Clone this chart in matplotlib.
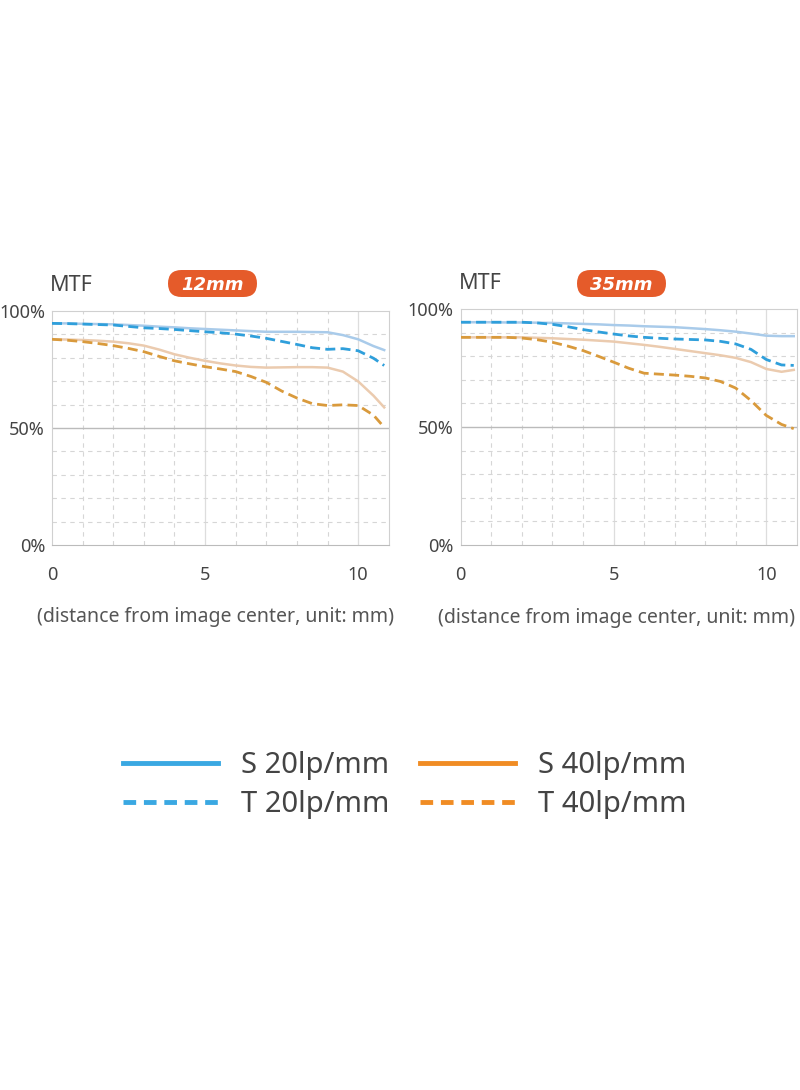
import matplotlib
matplotlib.use("Agg")
import matplotlib.pyplot as plt
from matplotlib.lines import Line2D
from matplotlib.patches import FancyBboxPatch

plt.rcParams['font.family'] = ['Noto Sans', 'DejaVu Sans']

# distance from image center (mm) and MTF (%)
x12 = [0, 0.5, 1, 1.5, 2, 2.5, 3, 3.5, 4, 4.5, 5, 5.5, 6, 6.5, 7, 7.5, 8,
       8.5, 9, 9.5, 10, 10.5, 10.85]
s20_12 = [94.7, 94.7, 94.5, 94.4, 94.3, 94.0, 93.7, 93.3, 93.0, 92.6, 92.3, 92.0,
          91.7, 91.4, 91.1, 91.1, 91.1, 91.0, 90.9, 89.7, 87.9, 85.0, 83.3]
t20_12 = [94.7, 94.6, 94.4, 94.2, 94.0, 93.4, 92.8, 92.5, 92.1, 91.6, 91.1, 90.7,
          90.1, 89.3, 88.3, 87.0, 85.7, 84.3, 83.6, 83.9, 83.0, 79.8, 76.7]
s40_12 = [87.9, 87.8, 87.6, 87.3, 86.9, 86.2, 85.2, 83.5, 81.5, 80.0, 78.7, 77.6,
          76.7, 76.1, 75.8, 75.9, 76.0, 76.0, 75.8, 74.1, 69.9, 63.8, 58.8]
t40_12 = [87.9, 87.5, 86.9, 86.1, 85.2, 84.0, 82.6, 80.6, 78.7, 77.4, 76.2, 75.2,
          74.1, 72.0, 69.5, 65.8, 62.8, 60.4, 59.6, 59.9, 59.6, 55.5, 50.3]

x35 = [0, 0.5, 1, 1.5, 2, 2.5, 3, 3.5, 4, 4.5, 5, 5.5, 6, 6.5, 7, 7.5, 8,
       8.5, 9, 9.5, 10, 10.5, 10.9]
s20_35 = [94.4, 94.4, 94.4, 94.3, 94.3, 94.2, 94.1, 93.9, 93.7, 93.5, 93.2, 93.0,
          92.7, 92.5, 92.3, 91.9, 91.5, 91.0, 90.4, 89.6, 88.7, 88.5, 88.5]
t20_35 = [94.4, 94.4, 94.4, 94.4, 94.4, 94.1, 93.5, 92.5, 91.3, 90.3, 89.4, 88.6,
          88.0, 87.6, 87.3, 87.1, 86.9, 86.3, 85.2, 82.9, 78.6, 76.3, 76.1]
s40_35 = [88.0, 88.0, 88.0, 88.0, 88.0, 87.8, 87.6, 87.3, 87.0, 86.6, 86.2, 85.5,
          84.8, 84.0, 83.1, 82.2, 81.3, 80.4, 79.3, 77.5, 74.6, 73.4, 74.2]
t40_35 = [88.0, 88.0, 88.0, 88.0, 87.7, 87.0, 85.9, 84.3, 82.4, 80.0, 77.5, 74.9,
          72.8, 72.4, 72.0, 71.5, 70.8, 69.3, 66.5, 61.2, 54.9, 51.1, 49.3]

names = ["12mm", "35mm"]
series = [(x12, s20_12, t20_12, s40_12, t40_12),
          (x35, s20_35, t20_35, s40_35, t40_35)]

c_s20 = "#a9cbea"
c_t20 = "#2f9fdb"
c_s40 = "#ebcbaf"
c_t40 = "#d99a3c"
badge = "#e55b2a"
txt = "#444444"

fig = plt.figure(figsize=(8, 10.9), dpi=100)

ax_boxes = [[0.065, 0.5, 0.421, 0.2147], [0.576, 0.5, 0.42, 0.2165]]
badge_centers = [(2.125, 8.065), (6.215, 8.065)]  # inches from bottom-left
xlabel_x = [0.484, 0.464]

for box, name, bc, lx, (xs, s20, t20, s40, t40) in zip(ax_boxes, names, badge_centers,
                                                       xlabel_x, series):
    ax = fig.add_axes(box)
    ax.set_xlim(0, 11)
    ax.set_ylim(0, 100)
    # grid
    for gx in range(1, 11):
        if gx in (5, 10):
            ax.axvline(gx, color="#dddddd", lw=0.9, zorder=0)
        else:
            ax.axvline(gx, color="#d6d6d6", lw=0.8, ls=(0, (4, 4)), zorder=0)
    for gy in range(10, 100, 10):
        if gy == 50:
            ax.axhline(gy, color="#bbbbbb", lw=1.0, zorder=0)
        else:
            ax.axhline(gy, color="#d6d6d6", lw=0.8, ls=(0, (4, 4)), zorder=0)

    ax.plot(xs, s20, color=c_s20, lw=1.8, zorder=2)
    ax.plot(xs, s40, color=c_s40, lw=1.8, zorder=2)
    ax.plot(xs, t40, color=c_t40, lw=2.0, ls=(0, (3.6, 1.9)), zorder=3)
    ax.plot(xs, t20, color=c_t20, lw=2.0, ls=(0, (3.6, 1.9)), zorder=3)

    for side in ["top", "right", "left"]:
        ax.spines[side].set_color("#d0d0d0")
    ax.spines["bottom"].set_color("#bbbbbb")
    ax.set_xticks([0, 5, 10])
    ax.set_yticks([0, 50, 100])
    ax.set_yticklabels(["0%", "50%", "100%"])
    ax.tick_params(length=0, labelsize=13, colors=txt, pad=5)
    ax.tick_params(axis="x", pad=15)
    ax.set_xlabel("(distance from image center, unit: mm)", fontsize=14,
                  color="#555555", va="center")
    ax.xaxis.set_label_coords(lx, -0.308)

    ax.text(-0.006, 1.11, "MTF", transform=ax.transAxes, fontsize=15.5,
            color=txt, ha="left", va="center")

    # orange pill label
    w, h = 0.89, 0.27
    pill = FancyBboxPatch((bc[0] - w / 2, bc[1] - h / 2), w, h,
                          boxstyle="round,pad=0,rounding_size=0.135",
                          transform=fig.dpi_scale_trans, fc=badge, ec="none")
    fig.patches.append(pill)
    fig.text(bc[0], bc[1] - 0.01, name, transform=fig.dpi_scale_trans,
             fontsize=13, color="white", fontweight="bold", style="oblique",
             family="DejaVu Sans", ha="center", va="center")

# legend
handles = [
    Line2D([], [], color="#3aa8e2", lw=3.5),
    Line2D([], [], color="#3aa8e2", lw=3.5, ls=(0, (2.6, 1.6))),
    Line2D([], [], color="#f08c24", lw=3.5),
    Line2D([], [], color="#f08c24", lw=3.5, ls=(0, (2.6, 1.6))),
]
labels = ["S 20lp/mm", "T 20lp/mm", "S 40lp/mm", "T 40lp/mm"]
leg = fig.legend(handles, labels, loc="center", bbox_to_anchor=(0.506, 0.2798),
                 ncol=2, frameon=False, fontsize=21, handlelength=3.26,
                 handletextpad=0.8, columnspacing=1.05, labelspacing=0.35)
for t in leg.get_texts():
    t.set_color(txt)

fig.savefig("out.png", dpi=100, facecolor="white")
